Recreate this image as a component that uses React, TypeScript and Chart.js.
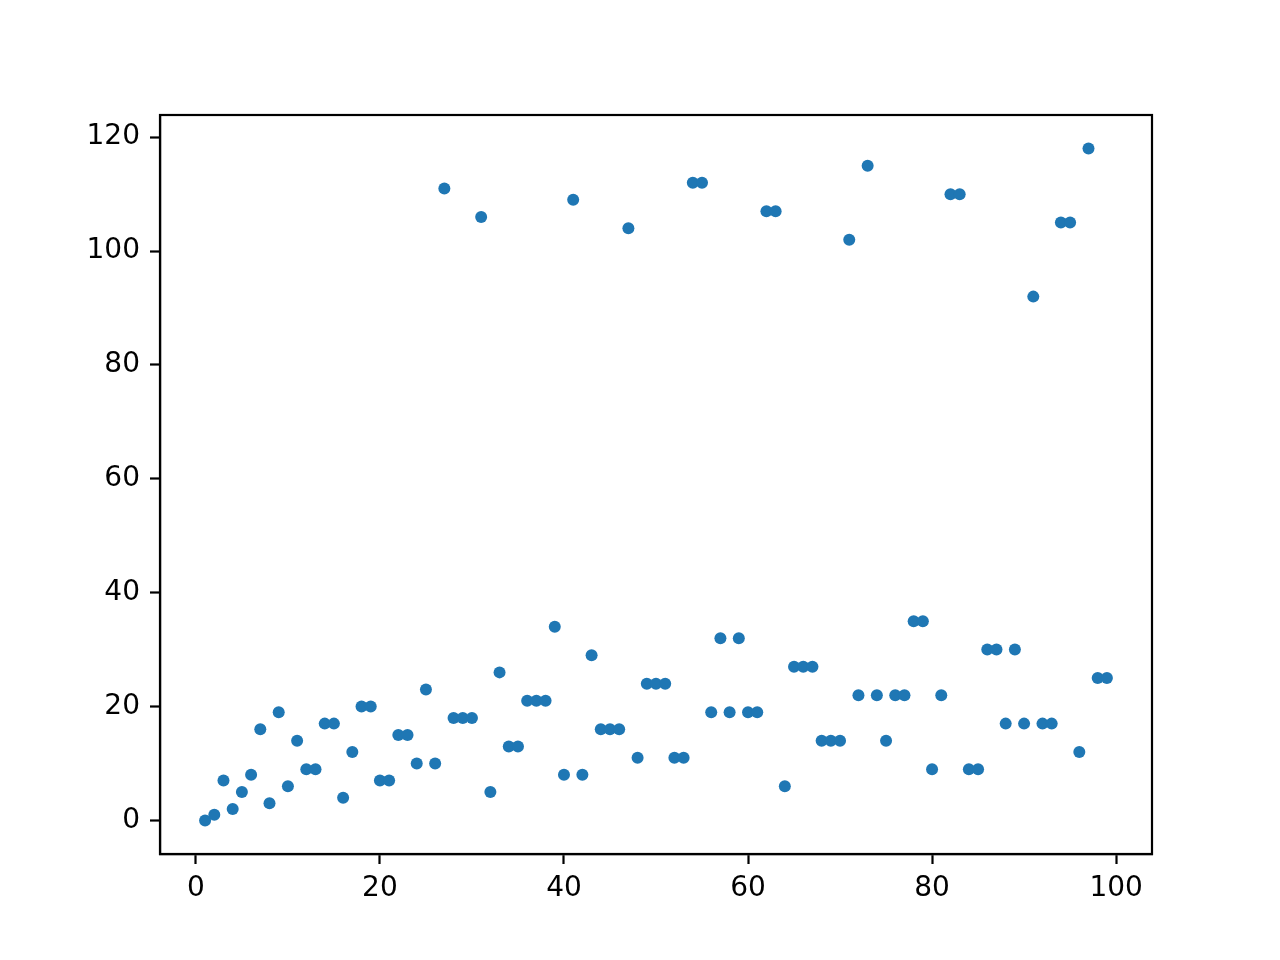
import { useEffect, useRef } from "react";
import { Chart, registerables } from "chart.js";

Chart.register(...registerables);

// n = 1..99 and the value plotted for each
const xValues = Array.from({ length: 99 }, (_, i) => i + 1);
const yValues = [
  0, 1, 7, 2, 5, 8, 16, 3, 19, 6,
  14, 9, 9, 17, 17, 4, 12, 20, 20, 7,
  7, 15, 15, 10, 23, 10, 111, 18, 18, 18,
  106, 5, 26, 13, 13, 21, 21, 21, 34, 8,
  109, 8, 29, 16, 16, 16, 104, 11, 24, 24,
  24, 11, 11, 112, 112, 19, 32, 19, 32, 19,
  19, 107, 107, 6, 27, 27, 27, 14, 14, 14,
  102, 22, 115, 22, 14, 22, 22, 35, 35, 9,
  22, 110, 110, 9, 9, 30, 30, 17, 30, 17,
  92, 17, 17, 105, 105, 12, 118, 25, 25,
];
const xTicks = [0, 20, 40, 60, 80, 100];
const yTicks = [0, 20, 40, 60, 80, 100, 120];

const frame = {
  id: "frame",
  afterDraw(chart: Chart) {
    const { ctx, chartArea } = chart;
    ctx.save();
    ctx.strokeStyle = "#000";
    ctx.lineWidth = 2.2;
    ctx.strokeRect(chartArea.left, chartArea.top, chartArea.right - chartArea.left, chartArea.bottom - chartArea.top);
    ctx.restore();
  },
};

export default function App() {
  const chartRef = useRef<HTMLCanvasElement>(null);
  const chartInstance = useRef<Chart | null>(null);

  useEffect(() => {
    document.body.style.margin = "0";
    if (!chartRef.current) return;
    if (chartInstance.current) chartInstance.current.destroy();

    const tickFont = { family: "DejaVu Sans", size: 28 };

    chartInstance.current = new Chart(chartRef.current, {
      type: "scatter",
      data: {
        datasets: [{
          data: xValues.map((x, i) => ({ x, y: yValues[i] })),
          backgroundColor: "#1f77b4",
          borderWidth: 0,
          pointRadius: 6,
        }],
      },
      options: {
        animation: false,
        responsive: true,
        maintainAspectRatio: false,
        devicePixelRatio: 1,
        layout: { padding: { left: 0, top: 115, right: 128, bottom: 0 } },
        plugins: { legend: { display: false }, tooltip: { enabled: false } },
        scales: {
          x: {
            type: "linear",
            min: -3.9,
            max: 103.9,
            afterBuildTicks: (axis: any) => { axis.ticks = xTicks.map((v) => ({ value: v })); },
            afterFit: (axis: any) => { axis.height = 106; },
            ticks: { color: "#000", font: tickFont, padding: 8, maxRotation: 0 },
            grid: { drawOnChartArea: false, drawTicks: true, tickLength: 10, tickColor: "#000", tickWidth: 2.2 },
            border: { color: "#000", width: 2.2 },
          },
          y: {
            type: "linear",
            min: -5.9,
            max: 123.9,
            afterBuildTicks: (axis: any) => { axis.ticks = yTicks.map((v) => ({ value: v })); },
            afterFit: (axis: any) => { axis.width = 160; },
            ticks: { color: "#000", font: tickFont, padding: 10 },
            grid: { drawOnChartArea: false, drawTicks: true, tickLength: 10, tickColor: "#000", tickWidth: 2.2 },
            border: { color: "#000", width: 2.2 },
          },
        },
      },
      plugins: [frame],
    });

    return () => {
      if (chartInstance.current) {
        chartInstance.current.destroy();
        chartInstance.current = null;
      }
    };
  }, []);

  return (
    <div style={{ position: "absolute", left: 0, top: 0, width: 1280, height: 960, background: "#fff" }}>
      <canvas ref={chartRef}></canvas>
    </div>
  );
}
